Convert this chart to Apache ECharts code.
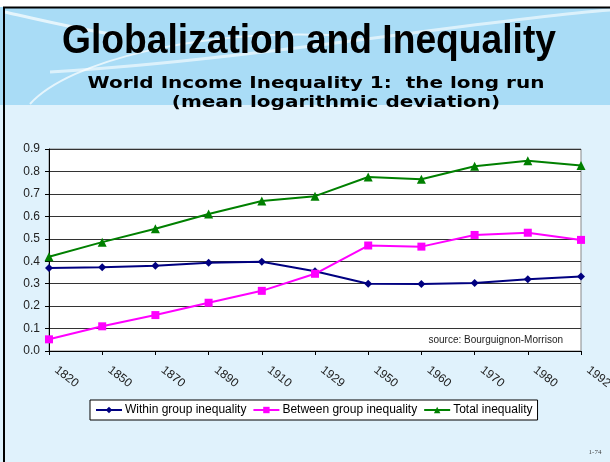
<!DOCTYPE html>
<html>
<head>
<meta charset="utf-8">
<script src="https://cdn.jsdelivr.net/npm/echarts@6/dist/echarts.min.js"></script>
<style>
html, body { margin: 0; padding: 0; background: #fff; }
#container { width: 610px; height: 462px; }
</style>
</head>
<body>
<div id="container"></div>
<script>
var years = ['1820', '1850', '1870', '1890', '1910', '1929', '1950', '1960', '1970', '1980', '1992'];
var withinGroup = [0.370, 0.373, 0.380, 0.393, 0.398, 0.355, 0.300, 0.298, 0.303, 0.320, 0.332];
var betweenGroup = [0.052, 0.110, 0.160, 0.215, 0.268, 0.344, 0.470, 0.465, 0.517, 0.527, 0.495];
var totalIneq = [0.420, 0.485, 0.545, 0.610, 0.668, 0.690, 0.775, 0.765, 0.823, 0.848, 0.827];

var dom = document.getElementById('container');
var myChart = echarts.init(dom);

var font = '"Liberation Sans", Arial, sans-serif';
var subFont = 'bold 16px "DejaVu Sans", Verdana, sans-serif';

var option = {
    animation: false,
    backgroundColor: '#e0f2fc',
    graphic: [
        // top band of the slide
        {type: 'rect', z: -5, shape: {x: 0, y: 0, width: 610, height: 105}, style: {fill: '#a9dcf6'}},
        {type: 'rect', z: -4, shape: {x: 0, y: 0, width: 610, height: 7}, style: {fill: '#ffffff'}},
        // decorative swooshes
        {type: 'bezierCurve', z: -3, shape: {x1: 5, y1: 12, x2: 120, y2: 35, cpx1: 40, cpy1: 20, cpx2: 90, cpy2: 32}, style: {stroke: '#ffffff', lineWidth: 3, opacity: 0.7, fill: null}},
        {type: 'bezierCurve', z: -3, shape: {x1: 30, y1: 104, x2: 330, y2: 35, cpx1: 70, cpy1: 60, cpx2: 200, cpy2: 30}, style: {stroke: '#ffffff', lineWidth: 2, opacity: 0.7, fill: null}},
        {type: 'bezierCurve', z: -3, shape: {x1: 50, y1: 72, x2: 610, y2: 10, cpx1: 250, cpy1: 60, cpx2: 480, cpy2: 20}, style: {stroke: '#ffffff', lineWidth: 3, opacity: 0.6, fill: null}},
        // slide border
        {type: 'line', z: -2, shape: {x1: 3, y1: 7.5, x2: 610, y2: 7.5}, style: {stroke: '#000', lineWidth: 2}},
        {type: 'line', z: -2, shape: {x1: 4, y1: 7, x2: 4, y2: 462}, style: {stroke: '#000', lineWidth: 2}},
        // titles
        {type: 'text', x: 309, y: 42, scaleX: 0.93, style: {text: 'Globalization and Inequality', font: 'bold 40px ' + font, fill: '#000', align: 'center', verticalAlign: 'middle'}},
        {type: 'text', x: 316, y: 84, scaleX: 1.25, style: {text: 'World Income Inequality 1:  the long run', font: subFont, fill: '#000', align: 'center', verticalAlign: 'middle'}},
        {type: 'text', x: 336, y: 103, scaleX: 1.25, style: {text: '(mean logarithmic deviation)', font: subFont, fill: '#000', align: 'center', verticalAlign: 'middle'}},
        // source note inside the plot
        {type: 'text', x: 563, y: 340, style: {text: 'source: Bourguignon-Morrison', font: '10px ' + font, fill: '#222', align: 'right', verticalAlign: 'middle'}},
        // slide number
        {type: 'text', x: 595, y: 452, style: {text: '1-74', font: '7px "Liberation Serif", serif', fill: '#444', align: 'center', verticalAlign: 'middle'}}
    ],
    grid: {
        left: 49,
        right: 29,
        top: 149,
        bottom: 111,
        outerBoundsMode: 'none',
        show: true,
        backgroundColor: '#ffffff',
        borderColor: '#888',
        borderWidth: 1
    },
    legend: {
        bottom: 42,
        left: 90,
        backgroundColor: '#ffffff',
        borderColor: '#000',
        borderWidth: 1,
        borderRadius: 0,
        padding: [4, 5],
        itemGap: 6,
        itemWidth: 26,
        itemHeight: 8,
        textStyle: {fontFamily: font, fontSize: 12, color: '#000', padding: [0, 0, 0, -2]},
        data: ['Within group inequality', 'Between group inequality', 'Total inequality']
    },
    xAxis: {
        type: 'category',
        data: years,
        boundaryGap: false,
        axisLine: {lineStyle: {color: '#000', width: 1}},
        axisTick: {show: true, length: 4, inside: false, lineStyle: {color: '#000'}},
        axisLabel: {rotate: -38, margin: 12, padding: [0, 0, 0, 9], fontFamily: font, fontSize: 12, color: '#222'},
        splitLine: {show: false}
    },
    yAxis: {
        type: 'value',
        min: 0,
        max: 0.9,
        interval: 0.1,
        axisLine: {show: true, lineStyle: {color: '#000', width: 1}},
        axisTick: {show: true, length: 4, lineStyle: {color: '#000'}},
        axisLabel: {margin: 9, fontFamily: font, fontSize: 12, color: '#222', formatter: function (v) { return v.toFixed(1); }},
        splitLine: {show: true, lineStyle: {color: '#333', width: 1}}
    },
    series: [
        {
            name: 'Within group inequality',
            type: 'line',
            data: withinGroup,
            symbol: 'diamond',
            symbolSize: 8,
            lineStyle: {color: '#000080', width: 2},
            itemStyle: {color: '#000080'}
        },
        {
            name: 'Between group inequality',
            type: 'line',
            data: betweenGroup,
            symbol: 'rect',
            symbolSize: 8,
            lineStyle: {color: '#ff00ff', width: 2},
            itemStyle: {color: '#ff00ff'}
        },
        {
            name: 'Total inequality',
            type: 'line',
            data: totalIneq,
            symbol: 'triangle',
            symbolSize: 9,
            lineStyle: {color: '#008000', width: 2},
            itemStyle: {color: '#008000'}
        }
    ]
};

if (option && typeof option === 'object') {
    myChart.setOption(option);
}
</script>
</body>
</html>
